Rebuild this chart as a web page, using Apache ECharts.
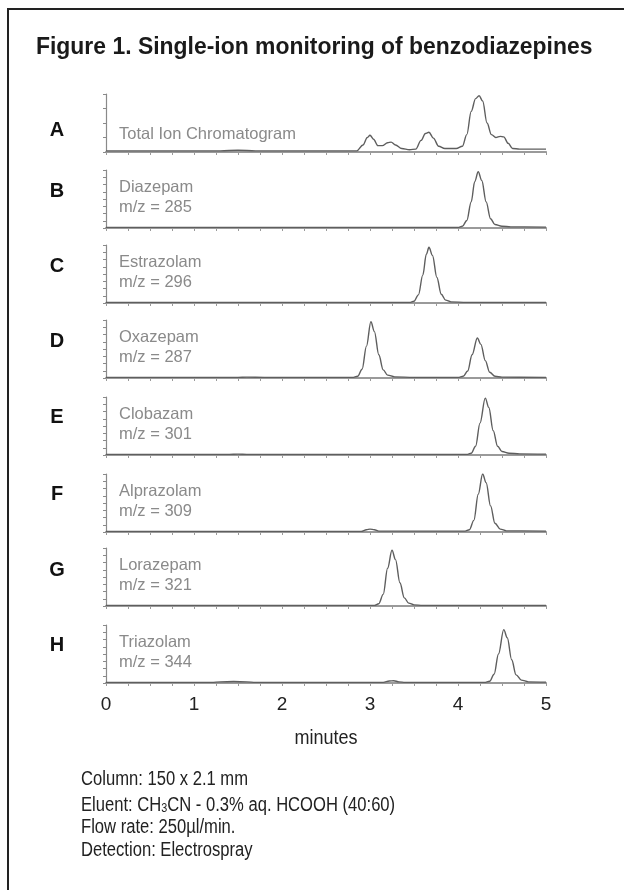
<!DOCTYPE html>
<html>
<head>
<meta charset="utf-8">
<script src="https://cdn.jsdelivr.net/npm/echarts@6/dist/echarts.min.js"></script>
<style>
html,body{margin:0;padding:0;background:#fff;}
#chart{width:624px;height:890px;}
</style>
</head>
<body>
<div id="chart"></div>
<script>
// ---- data ----
const panelLetters = ['A','B','C','D','E','F','G','H'];
const compoundNames = ['Total Ion Chromatogram','Diazepam','Estrazolam','Oxazepam','Clobazam','Alprazolam','Lorazepam','Triazolam'];
const mzLabels = ['','m/z = 285','m/z = 296','m/z = 287','m/z = 301','m/z = 309','m/z = 321','m/z = 344'];
const xTickLabels = [0,1,2,3,4,5];
const xAxisTitle = 'minutes';
const titleText = 'Figure 1. Single-ion monitoring of benzodiazepines';
const notes = ['Column: 150 x 2.1 mm','Eluent: CH3CN - 0.3% aq. HCOOH (40:60)','Flow rate: 250µl/min.','Detection: Electrospray'];

// time (min), relative intensity (%)
const traceA = [[0,2],[0.5,2],[1.3,2],[1.5,3],[1.7,2],[2.5,2],[2.85,2],[2.92,12],[2.97,25],[3.0,29],[3.04,22],[3.09,11],[3.14,11],[3.2,16],[3.24,17],[3.29,12],[3.36,6],[3.45,4],[3.52,5],[3.58,20],[3.63,32],[3.67,34],[3.72,24],[3.78,10],[3.85,6],[3.98,6],[4.05,10],[4.1,30],[4.15,70],[4.2,92],[4.24,97],[4.28,88],[4.33,50],[4.38,30],[4.43,25],[4.48,27],[4.52,26],[4.57,15],[4.62,6],[4.7,5],[5,5]];
const traceB = [[0,1],[2,1],[4.0,1],[4.05,3],[4.1,13],[4.15,45],[4.19,80],[4.23,97],[4.27,82],[4.32,45],[4.37,16],[4.42,6],[4.5,3],[4.6,2],[5,1.5]];
const traceC = [[0,1],[3.45,1],[3.5,3],[3.55,14],[3.6,48],[3.64,84],[3.67,96],[3.71,82],[3.76,44],[3.81,15],[3.86,5],[3.92,2],[4.1,1],[5,1]];
const traceD = [[0,1],[1.5,1],[1.6,1.5],[1.8,1],[2.8,1],[2.86,3],[2.91,15],[2.96,55],[3.01,97],[3.05,80],[3.1,40],[3.15,14],[3.2,5],[3.28,2],[3.5,1],[4.0,1],[4.06,3],[4.11,12],[4.16,40],[4.22,69],[4.26,58],[4.31,30],[4.36,10],[4.42,3],[4.5,1.5],[5,1]];
const traceE = [[0,1],[1.4,1],[1.5,1.5],[1.6,1],[4.1,1],[4.15,3],[4.2,15],[4.25,55],[4.31,98],[4.35,82],[4.4,42],[4.45,15],[4.5,6],[4.58,3],[4.7,2],[5,1.5]];
const traceF = [[0,1],[2.9,1],[2.96,4],[3.0,5],[3.05,4],[3.1,1.5],[4.08,1.5],[4.13,4],[4.18,20],[4.23,65],[4.28,100],[4.32,85],[4.37,45],[4.42,15],[4.48,5],[4.55,2],[5,1.5]];
const traceG = [[0,1],[3.05,1],[3.1,4],[3.15,20],[3.2,65],[3.25,96],[3.29,80],[3.34,40],[3.39,14],[3.44,5],[3.5,2],[3.6,1],[5,1]];
const traceH = [[0,1],[1.2,1],[1.3,2],[1.45,2.5],[1.6,2],[1.7,1],[3.15,1],[3.22,3.5],[3.27,4],[3.33,2],[3.4,1],[4.3,1],[4.36,3],[4.41,15],[4.46,50],[4.52,92],[4.56,78],[4.61,40],[4.66,14],[4.72,5],[4.8,2],[5,1.5]];
const traces = [traceA,traceB,traceC,traceD,traceE,traceF,traceG,traceH];

// ---- layout ----
const baselines = [152,228,303,378,455,532,606,683];
const letterY = [130,191,266,341,417,494,570,645];
const panelH = 58;
const plotLeft = 106, plotWidth = 440;
const sans = "'Liberation Sans',Arial,sans-serif";

const grids = [], xAxes = [], yAxes = [], series = [];
traces.forEach((tr, i) => {
  grids.push({left: plotLeft, width: plotWidth, top: baselines[i] - panelH, height: panelH});
  xAxes.push({
    gridIndex: i, type: 'value', min: 0, max: 5, interval: 0.25,
    axisLine: {show: true, lineStyle: {color: '#9a9a9a', width: 2.2}},
    axisTick: {show: true, length: 3, lineStyle: {color: '#9a9a9a', width: 1}},
    axisLabel: {
      show: i === traces.length - 1, margin: 12,
      fontSize: 19, fontFamily: sans, color: '#222',
      formatter: v => xTickLabels.includes(v) ? String(v) : ''
    },
    splitLine: {show: false}
  });
  yAxes.push({
    gridIndex: i, type: 'value', min: 0, max: 100, interval: i === 0 ? 25 : 12.5,
    axisLine: {show: true, lineStyle: {color: '#8a8a8a', width: 1.2}},
    axisTick: {show: true, length: 3, lineStyle: {color: '#8a8a8a', width: 1}},
    axisLabel: {show: false},
    splitLine: {show: false}
  });
  series.push({
    type: 'line', xAxisIndex: i, yAxisIndex: i, data: tr,
    showSymbol: false, smooth: 0.35, smoothMonotone: 'x',
    lineStyle: {color: '#5e5e5e', width: 1.4}, silent: true
  });
});

const graphic = [
  {type: 'rect', shape: {x: 8, y: 9, width: 700, height: 1000}, style: {fill: null, stroke: '#222', lineWidth: 2}, silent: true},
  {type: 'text', x: 36, y: 47, scaleX: 0.955, style: {text: titleText, font: "bold 24px " + sans, fill: '#1a1a1a', textVerticalAlign: 'middle'}},
  {type: 'text', x: 326, y: 738, scaleX: 0.9, style: {text: xAxisTitle, font: "20px " + sans, fill: '#222', textAlign: 'center', textVerticalAlign: 'middle'}}
];
panelLetters.forEach((L, i) => {
  graphic.push({type: 'text', x: 57, y: letterY[i], style: {text: L, font: "bold 20px " + sans, fill: '#111', textAlign: 'center', textVerticalAlign: 'middle'}});
  const nameY = i === 0 ? 134 : baselines[i] - 41;
  graphic.push({type: 'text', x: 119, y: nameY, style: {text: compoundNames[i], font: "16.5px " + sans, fill: '#8a8a8a', textVerticalAlign: 'middle'}});
  if (mzLabels[i]) graphic.push({type: 'text', x: 119, y: baselines[i] - 21, style: {text: mzLabels[i], font: "16.5px " + sans, fill: '#8a8a8a', textVerticalAlign: 'middle'}});
});
const noteY = [779, 803, 827, 850];
const noteScale = 0.83;
notes.forEach((t, i) => {
  if (t.indexOf('CH3CN') >= 0) {
    const parts = t.split('CH3CN');
    graphic.push({type: 'text', x: 81, y: noteY[i] - 12, scaleX: noteScale, style: {
      text: '{n|' + parts[0] + 'CH}{s|3}{n|CN' + parts[1] + '}',
      rich: {
        n: {fontSize: 20, fontFamily: sans, fill: '#222', lineHeight: 24, verticalAlign: 'bottom'},
        s: {fontSize: 13, fontFamily: sans, fill: '#222', lineHeight: 14, verticalAlign: 'bottom'}
      },
      textVerticalAlign: 'top'
    }});
  } else {
    graphic.push({type: 'text', x: 81, y: noteY[i], scaleX: noteScale, style: {text: t, font: "20px " + sans, fill: '#222', textVerticalAlign: 'middle'}});
  }
});

const chart = echarts.init(document.getElementById('chart'), null, {renderer: 'canvas'});
chart.setOption({
  animation: false,
  backgroundColor: '#fff',
  grid: grids, xAxis: xAxes, yAxis: yAxes, series: series,
  graphic: graphic
});
</script>
</body>
</html>
